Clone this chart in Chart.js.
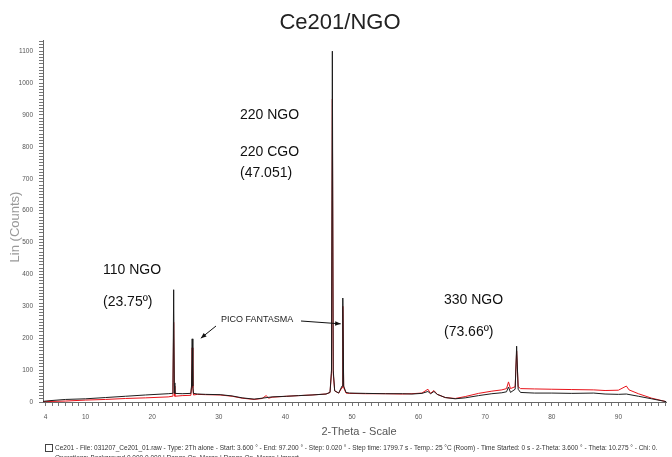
<!DOCTYPE html>
<html>
<head>
<meta charset="utf-8">
<title>Ce201/NGO</title>
<script src="https://cdn.jsdelivr.net/npm/chart.js@4.4.1/dist/chart.umd.min.js"></script>
<style>
  html, body { margin: 0; padding: 0; background: #fff; }
  #xrdChart { display: block; }
</style>
</head>
<body>
<canvas id="xrdChart" width="672" height="457"></canvas>
<script>
// 2-Theta (deg) and counts
const blackTheta = [3.6, 4.5, 7, 10, 13, 16, 19, 22.4, 23.0, 23.12, 23.22, 23.32, 23.4, 24.5, 25.8, 25.9, 26.0, 26.1, 26.2, 26.8,
    28, 30.2, 32, 33.5, 35.3, 36.5, 38, 40.2, 42, 44, 46.1, 46.7, 46.92, 47.05, 47.18, 47.4, 48.0, 48.5, 48.62, 48.75,
    49.1, 49.6, 52, 55, 57.6, 59, 60.5, 61.4, 61.8, 62.3, 62.8, 64, 65.5, 67, 69, 71, 72.5, 73.2, 73.5, 73.8,
    74.5, 74.72, 74.95, 75.3, 77.4, 80, 83, 86.3, 88, 90, 91.2, 93, 95, 97.2];
const blackCounts = [2, 4, 8, 10, 14, 18, 22, 26, 27, 60, 352, 60, 27, 26, 27, 50, 198, 50, 27, 25,
    24, 23, 19, 13, 9, 12, 16, 18, 20, 22, 25, 30, 100, 1100, 100, 35, 28, 50, 326, 50,
    30, 28, 27, 26, 26, 25, 27, 33, 26, 33, 24, 14, 10, 13, 20, 26, 29, 32, 47, 30,
    40, 175, 40, 30, 28, 28, 27, 28, 25, 24, 25, 18, 10, 1];

const redTheta = [3.6, 7, 10, 13, 16, 19, 22.4, 23.0, 23.12, 23.22, 23.32, 23.4, 24.5, 25.8, 25.9, 26.0, 26.1, 26.2, 26.8, 28,
    30.2, 32, 33.5, 35.3, 36.5, 37.1, 37.5, 38, 40.2, 42, 44, 46.1, 46.7, 46.92, 47.05, 47.18, 47.4, 48.0, 48.5, 48.62,
    48.75, 49.1, 49.6, 52, 55, 57.6, 59, 60.5, 61.4, 61.8, 62.3, 62.8, 64, 65.5, 67, 69, 71, 72.5, 73.2, 73.5,
    73.8, 74.5, 74.72, 74.95, 75.3, 77.4, 80, 83, 86.3, 88, 90, 91.2, 91.6, 93, 95, 97.2];
const redCounts = [1, 3, 6, 8, 11, 13, 16, 18, 50, 250, 50, 18, 20, 21, 45, 170, 45, 22, 24, 23,
    22, 18, 12, 8, 11, 20, 12, 15, 18, 20, 22, 25, 30, 90, 950, 90, 35, 28, 45, 300,
    45, 28, 27, 26, 26, 25, 26, 28, 40, 27, 36, 24, 14, 11, 17, 27, 34, 38, 42, 63,
    42, 48, 160, 48, 42, 41, 40, 39, 38, 36, 37, 50, 38, 26, 12, 1];

const xTickLabels = [4, 10, 20, 30, 40, 50, 60, 70, 80, 90];
const yTickLabels = [0, 100, 200, 300, 400, 500, 600, 700, 800, 900, 1000, 1100];

const FONT = "'Liberation Sans', Arial, sans-serif";

// titles, peak labels, arrows and the footer line
const textPlugin = {
    id: 'xrdText',
    afterDraw(chart) {
        const ctx = chart.ctx;
        const xs = chart.scales.x;
        const ys = chart.scales.y;
        ctx.save();
        ctx.textBaseline = 'middle';

        ctx.fillStyle = '#222';
        ctx.font = '22px ' + FONT;
        ctx.textAlign = 'center';
        ctx.fillText('Ce201/NGO', 340, 23);

        ctx.font = '14px ' + FONT;
        ctx.textAlign = 'left';
        ctx.fillStyle = '#111';
        ctx.fillText('220 NGO', 240, 115);
        ctx.fillText('220 CGO', 240, 152);
        ctx.fillText('(47.051)', 240, 173);
        ctx.fillText('110 NGO', 103, 270);
        ctx.fillText('(23.75º)', 103, 302);
        ctx.fillText('330 NGO', 444, 300);
        ctx.fillText('(73.66º)', 444, 332);

        ctx.font = '9px ' + FONT;
        ctx.fillStyle = '#222';
        ctx.fillText('PICO FANTASMA', 221, 320);

        function arrow(x1, y1, x2, y2) {
            const a = Math.atan2(y2 - y1, x2 - x1);
            ctx.strokeStyle = '#111';
            ctx.fillStyle = '#111';
            ctx.lineWidth = 1;
            ctx.beginPath();
            ctx.moveTo(x1, y1);
            ctx.lineTo(x2, y2);
            ctx.stroke();
            ctx.beginPath();
            ctx.moveTo(x2, y2);
            ctx.lineTo(x2 - 6 * Math.cos(a - 0.4), y2 - 6 * Math.sin(a - 0.4));
            ctx.lineTo(x2 - 6 * Math.cos(a + 0.4), y2 - 6 * Math.sin(a + 0.4));
            ctx.closePath();
            ctx.fill();
        }
        arrow(216, 326, xs.getPixelForValue(27.3), ys.getPixelForValue(200));
        arrow(301, 321, xs.getPixelForValue(48.3), ys.getPixelForValue(245));

        ctx.save();
        ctx.translate(15, 227);
        ctx.rotate(-Math.PI / 2);
        ctx.textAlign = 'center';
        ctx.font = '13px ' + FONT;
        ctx.fillStyle = '#999';
        ctx.fillText('Lin (Counts)', 0, 0);
        ctx.restore();

        ctx.textAlign = 'center';
        ctx.font = '11px ' + FONT;
        ctx.fillStyle = '#555';
        ctx.fillText('2-Theta - Scale', 359, 432);

        ctx.strokeStyle = '#444';
        ctx.strokeRect(45.5, 444.5, 7, 7);
        ctx.textAlign = 'left';
        ctx.font = '6.5px ' + FONT;
        ctx.fillStyle = '#333';
        ctx.fillText('Ce201 - File: 031207_Ce201_01.raw - Type: 2Th alone - Start: 3.600 ° - End: 97.200 ° - Step: 0.020 ° - Step time: 1799.7 s - Temp.: 25 °C (Room) - Time Started: 0 s - 2-Theta: 3.600 ° - Theta: 10.275 ° - Chi: 0.', 55, 448);
        ctx.fillText('Operations: Background 0.000,0.000 | Range Op. Merge | Range Op. Merge | Import', 55, 458);
        ctx.restore();
    }
};

const canvas = document.getElementById('xrdChart');
new Chart(canvas.getContext('2d'), {
    type: 'line',
    data: {
        datasets: [{
            label: 'Ce201',
            data: blackTheta.map((t, i) => ({ x: t, y: blackCounts[i] })),
            borderColor: '#1c1c1c',
            borderWidth: 1,
            pointRadius: 0,
            tension: 0
        }, {
            label: 'NGO',
            data: redTheta.map((t, i) => ({ x: t, y: redCounts[i] })),
            borderColor: '#e8141b',
            borderWidth: 1,
            pointRadius: 0,
            tension: 0
        }]
    },
    options: {
        responsive: false,
        animation: false,
        layout: { padding: { top: 40, left: 0, right: 0, bottom: 0 } },
        plugins: {
            legend: { display: false },
            tooltip: { enabled: false }
        },
        scales: {
            x: {
                type: 'linear',
                min: 3.6,
                max: 97.2,
                afterFit: function(scale) { scale.height = 55; },
                afterBuildTicks: function(scale) {
                    const t = [];
                    for (let v = 4; v <= 97; v++) t.push({ value: v });
                    scale.ticks = t;
                },
                grid: { display: true, drawOnChartArea: false, drawTicks: true, tickLength: 4, color: '#777' },
                border: { display: true, color: '#666' },
                ticks: {
                    autoSkip: false,
                    maxRotation: 0,
                    padding: 7,
                    color: '#555',
                    font: { size: 6.5, family: FONT },
                    callback: function(value) {
                        return xTickLabels.includes(value) ? String(value) : '';
                    }
                }
            },
            y: {
                min: 0,
                max: 1135,
                afterFit: function(scale) { scale.width = 43; },
                afterBuildTicks: function(scale) {
                    const t = [];
                    for (let v = 0; v <= 1130; v += 10) t.push({ value: v });
                    scale.ticks = t;
                },
                grid: { display: true, drawOnChartArea: false, drawTicks: true, tickLength: 4, color: '#777' },
                border: { display: true, color: '#666' },
                ticks: {
                    autoSkip: false,
                    padding: 6,
                    color: '#555',
                    font: { size: 6.5, family: FONT },
                    callback: function(value) {
                        return yTickLabels.includes(value) ? String(value) : '';
                    }
                }
            }
        }
    },
    plugins: [textPlugin]
});
</script>
</body>
</html>
